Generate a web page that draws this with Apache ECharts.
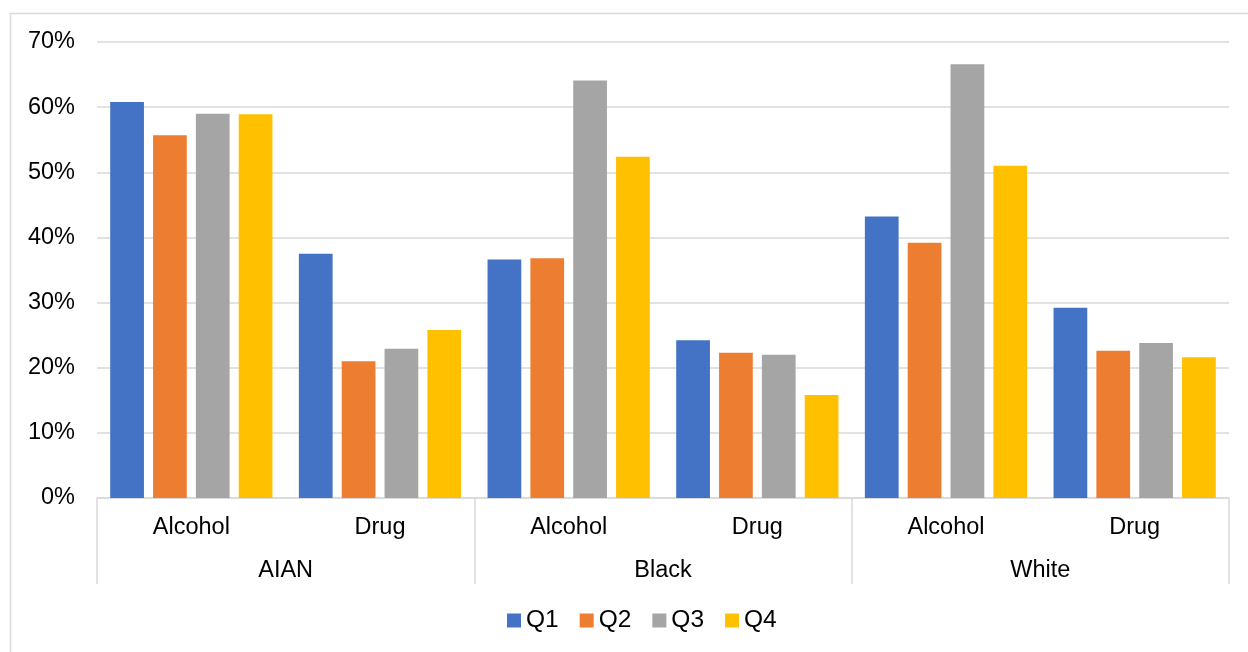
<!DOCTYPE html>
<html>
<head>
<meta charset="utf-8">
<script src="https://cdn.jsdelivr.net/npm/echarts@6/dist/echarts.min.js"></script>
<style>
  html, body { margin: 0; padding: 0; background: #fff; }
  #chart { width: 1248px; height: 652px; }
</style>
</head>
<body>
<div id="chart"></div>
<script>
// Substance type within each group, and the groups themselves
const substances = ['Alcohol', 'Drug', 'Alcohol', 'Drug', 'Alcohol', 'Drug'];
const groups = ['AIAN', 'Black', 'White'];

// Share by quarter (%), ordered AIAN Alcohol, AIAN Drug, Black Alcohol, Black Drug, White Alcohol, White Drug
const q1 = [60.8, 37.5, 36.6, 24.2, 43.2, 29.2];
const q2 = [55.7, 21.0, 36.8, 22.3, 39.2, 22.6];
const q3 = [59.0, 22.9, 64.1, 22.0, 66.6, 23.8];
const q4 = [58.9, 25.8, 52.4, 15.8, 51.0, 21.6];

const seriesNames = ['Q1', 'Q2', 'Q3', 'Q4'];
const seriesValues = [q1, q2, q3, q4];
const colors = ['#4472C4', '#ED7D31', '#A5A5A5', '#FFC000'];

const FONT = '"Liberation Sans", Arial, sans-serif';
const FS = 23.5;
const GRID_LINE = '#d9d9d9';

const chart = echarts.init(document.getElementById('chart'), null, { renderer: 'canvas' });

chart.setOption({
  animation: false,
  backgroundColor: '#fff',
  color: colors,
  textStyle: { fontFamily: FONT },
  grid: { left: 97, right: 19, top: 42, bottom: 154, containLabel: false },
  legend: {
    bottom: 14,
    left: 502,
    icon: 'rect',
    itemWidth: 14,
    itemHeight: 14,
    itemGap: 21,
    textStyle: { fontFamily: FONT, fontSize: 24.5, color: '#000' },
    data: seriesNames
  },
  xAxis: [
    {
      type: 'category',
      data: substances,
      axisLine: { show: true, lineStyle: { color: GRID_LINE, width: 1.5 } },
      axisTick: { show: false },
      axisLabel: { fontFamily: FONT, fontSize: FS, color: '#000', margin: 18, interval: 0 }
    },
    {
      type: 'category',
      data: groups,
      position: 'bottom',
      axisLine: { show: false },
      axisTick: { show: true, length: 86, lineStyle: { color: GRID_LINE, width: 1.5 } },
      axisLabel: { fontFamily: FONT, fontSize: FS, color: '#000', margin: 61, interval: 0 },
      splitLine: { show: false }
    }
  ],
  yAxis: {
    type: 'value',
    min: 0,
    max: 70,
    interval: 10,
    axisLine: { show: false },
    axisTick: { show: false },
    axisLabel: {
      fontFamily: FONT, fontSize: FS, color: '#000', margin: 22,
      formatter: v => v + '%'
    },
    splitLine: { lineStyle: { color: GRID_LINE, width: 1.5 } }
  },
  series: seriesNames.map((name, i) => ({
    name,
    type: 'bar',
    xAxisIndex: 0,
    data: seriesValues[i],
    barGap: '27%',
    barCategoryGap: '14%',
    itemStyle: { color: colors[i] }
  })),
  graphic: [
    {
      type: 'polyline',
      silent: true,
      shape: { points: [[10.5, 652], [10.5, 13.5], [1248, 13.5]] },
      style: { stroke: GRID_LINE, lineWidth: 1.5, fill: null }
    }
  ]
});
</script>
</body>
</html>
